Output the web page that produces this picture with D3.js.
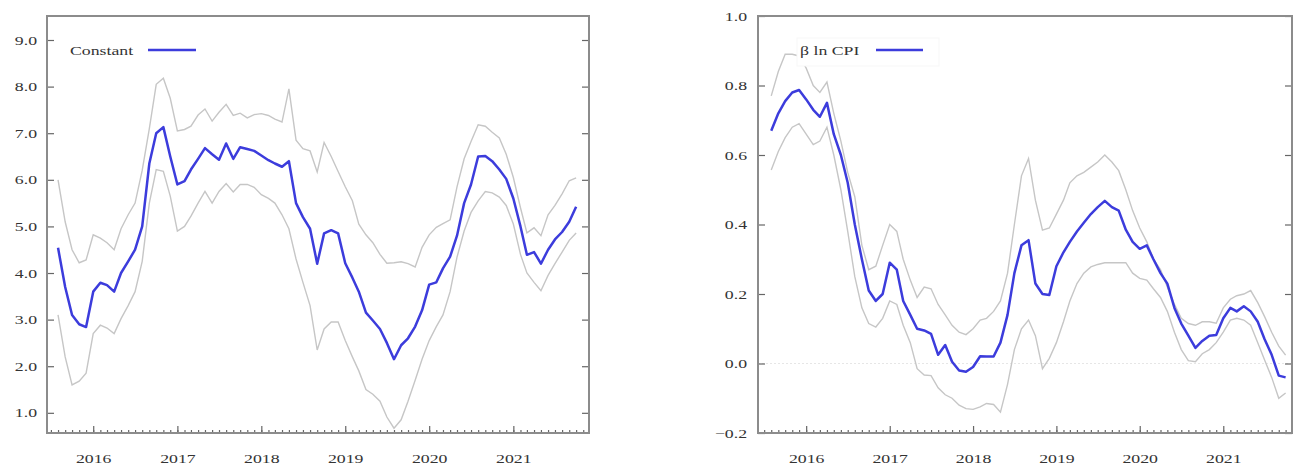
<!DOCTYPE html>
<html><head><meta charset="utf-8">
<script src="https://cdn.jsdelivr.net/npm/d3@7"></script>
<style>
html,body{margin:0;padding:0;background:#fff;}
svg{display:block;}
text{font-family:"Liberation Serif","Times New Roman",serif;fill:#333;}
</style></head>
<body>
<svg id="chart" width="1293" height="469"></svg>
<script>
// ---- data (monthly, Aug 2015 .. Oct 2021) ----
const startMonth = new Date(2015, 7, 1);
const endMonth = new Date(2021, 10, 1);
const months = d3.timeMonth.range(startMonth, endMonth);

const constMid = [4.54,3.70,3.10,2.90,2.84,3.60,3.79,3.74,3.60,4.00,4.25,4.50,5.00,6.35,7.00,7.13,6.50,5.90,5.97,6.22,6.45,6.68,6.55,6.43,6.78,6.45,6.70,6.66,6.62,6.52,6.42,6.35,6.28,6.40,5.50,5.20,4.95,4.20,4.85,4.92,4.85,4.21,3.90,3.60,3.15,2.98,2.80,2.50,2.15,2.45,2.60,2.85,3.20,3.75,3.80,4.10,4.35,4.80,5.50,5.90,6.50,6.51,6.40,6.22,6.02,5.60,5.00,4.39,4.45,4.20,4.50,4.72,4.88,5.10,5.42];
const constUpper = [6.00,5.10,4.50,4.22,4.28,4.82,4.75,4.65,4.50,4.95,5.25,5.50,6.20,7.10,8.05,8.18,7.75,7.05,7.08,7.15,7.39,7.52,7.26,7.45,7.62,7.38,7.43,7.33,7.40,7.42,7.38,7.30,7.24,7.95,6.85,6.67,6.62,6.17,6.80,6.50,6.18,5.85,5.55,5.05,4.82,4.65,4.40,4.21,4.22,4.24,4.20,4.13,4.55,4.82,4.98,5.06,5.14,5.85,6.45,6.82,7.18,7.15,7.02,6.90,6.55,6.05,5.40,4.86,4.97,4.80,5.25,5.45,5.70,5.98,6.04];
const constLower = [3.10,2.20,1.60,1.68,1.85,2.70,2.88,2.82,2.70,3.02,3.30,3.60,4.25,5.50,6.22,6.18,5.65,4.90,5.00,5.22,5.50,5.75,5.50,5.75,5.92,5.74,5.90,5.90,5.84,5.68,5.60,5.50,5.25,4.95,4.30,3.80,3.30,2.35,2.80,2.95,2.95,2.55,2.20,1.90,1.50,1.40,1.25,0.91,0.67,0.85,1.25,1.70,2.15,2.55,2.85,3.10,3.60,4.34,4.90,5.30,5.55,5.75,5.72,5.63,5.45,5.05,4.40,4.00,3.80,3.62,3.95,4.20,4.45,4.70,4.86];

const cpiMid = [0.67,0.72,0.755,0.78,0.787,0.76,0.73,0.71,0.75,0.66,0.60,0.52,0.40,0.30,0.21,0.18,0.20,0.29,0.27,0.18,0.14,0.10,0.095,0.085,0.025,0.053,0.005,-0.02,-0.024,-0.01,0.021,0.02,0.02,0.06,0.14,0.26,0.34,0.355,0.23,0.20,0.197,0.28,0.32,0.35,0.38,0.405,0.43,0.45,0.468,0.45,0.44,0.385,0.35,0.33,0.34,0.30,0.26,0.23,0.16,0.115,0.08,0.045,0.065,0.08,0.082,0.13,0.16,0.15,0.165,0.15,0.12,0.07,0.025,-0.035,-0.04];
const cpiUpper = [0.77,0.84,0.89,0.89,0.885,0.85,0.80,0.78,0.81,0.72,0.64,0.55,0.48,0.34,0.27,0.28,0.34,0.40,0.38,0.30,0.24,0.19,0.22,0.215,0.17,0.14,0.11,0.09,0.083,0.10,0.125,0.13,0.15,0.18,0.26,0.40,0.54,0.59,0.47,0.384,0.39,0.43,0.47,0.52,0.54,0.55,0.565,0.58,0.60,0.58,0.555,0.50,0.44,0.39,0.35,0.30,0.27,0.22,0.17,0.13,0.115,0.11,0.12,0.12,0.116,0.16,0.185,0.195,0.20,0.21,0.175,0.135,0.09,0.05,0.024];
const cpiLower = [0.557,0.61,0.65,0.68,0.69,0.66,0.63,0.64,0.68,0.60,0.50,0.38,0.25,0.16,0.115,0.105,0.13,0.18,0.17,0.11,0.06,-0.015,-0.033,-0.035,-0.07,-0.09,-0.10,-0.12,-0.13,-0.132,-0.125,-0.115,-0.118,-0.14,-0.06,0.04,0.10,0.125,0.08,-0.015,0.015,0.06,0.12,0.18,0.23,0.26,0.278,0.285,0.29,0.29,0.29,0.29,0.26,0.245,0.24,0.215,0.19,0.15,0.09,0.04,0.008,0.005,0.028,0.04,0.06,0.09,0.125,0.13,0.125,0.11,0.06,0.01,-0.04,-0.10,-0.085];

const constTicks = [1,2,3,4,5,6,7,8,9];
const cpiTicks = [-0.2,0,0.2,0.4,0.6,0.8,1.0];
const yearTicks = [2016,2017,2018,2019,2020,2021];
const legendLabels = ["Constant", "\u03b2 ln CPI"];

// ---- drawing ----
const svg = d3.select("#chart");
const STRETCH = 1.42;
const BLUE = "#3c3cdc";
const GREY = "#c6c6c6";

function stretchText(sel){
  sel.each(function(){
    const len = this.getComputedTextLength();
    d3.select(this).attr("textLength", len*STRETCH).attr("lengthAdjust","spacingAndGlyphs");
  });
}

function panel(opt){
  const g = svg.append("g");
  const x = d3.scaleTime().domain(opt.xDomain).range([opt.x0, opt.x1]);
  const y = d3.scaleLinear().domain(opt.yDomain).range([opt.y1, opt.y0]);

  if (opt.zero) {
    g.append("line")
      .attr("x1", opt.x0).attr("x2", opt.x1)
      .attr("y1", y(0)).attr("y2", y(0))
      .attr("stroke", "#e6e6e6").attr("stroke-width", 1.2)
      .attr("stroke-dasharray", "2,2");
  }

  const line = d3.line().x((d,i)=>x(months[i])).y(d=>y(d));
  g.append("path").datum(opt.upper).attr("d", line)
    .attr("fill","none").attr("stroke",GREY).attr("stroke-width",1.4);
  g.append("path").datum(opt.lower).attr("d", line)
    .attr("fill","none").attr("stroke",GREY).attr("stroke-width",1.4);
  g.append("path").datum(opt.mid).attr("d", line)
    .attr("fill","none").attr("stroke",BLUE).attr("stroke-width",2.5)
    .attr("stroke-linejoin","round");

  // legend
  const lg = g.append("g");
  if (opt.legendBox) {
    lg.append("rect").attr("x", opt.legendBox[0]).attr("y", opt.legendBox[1])
      .attr("width", opt.legendBox[2]).attr("height", opt.legendBox[3])
      .attr("fill","#fff").attr("stroke","#f7f7f7");
  }
  lg.append("text").attr("x", opt.legX).attr("y", opt.legY).attr("dy","0.35em")
    .attr("font-size", 12.5).text(opt.legend).call(stretchText);
  lg.append("line").attr("x1", opt.legL1).attr("x2", opt.legL2)
    .attr("y1", opt.legY - 1).attr("y2", opt.legY - 1)
    .attr("stroke", BLUE).attr("stroke-width", 2.5);

  // axes
  const style = a => {
    a.select(".domain").remove();
    a.selectAll("line").attr("stroke","#666").attr("stroke-width",1.2);
    a.selectAll("text").attr("font-size",12.5).attr("fill","#333")
      .attr("font-family","Liberation Serif, serif");
  };
  const fmt = opt.fmt;
  const yl = g.append("g").attr("transform",`translate(${opt.x0},0)`)
    .call(d3.axisLeft(y).tickValues(opt.yTicks).tickSize(-7).tickPadding(opt.yPad).tickFormat(fmt));
  style(yl); yl.selectAll("text").call(stretchText);
  const yr = g.append("g").attr("transform",`translate(${opt.x1},0)`)
    .call(d3.axisRight(y).tickValues(opt.yTicks).tickSize(-7).tickFormat(""));
  style(yr);
  const xm = g.append("g").attr("transform",`translate(0,${opt.y1})`)
    .call(d3.axisBottom(x).ticks(d3.timeMonth.every(1)).tickSize(-3).tickFormat(""));
  style(xm);
  const xb = g.append("g").attr("transform",`translate(0,${opt.y1})`)
    .call(d3.axisBottom(x).tickValues(yearTicks.map(v=>new Date(v,0,1))).tickSize(-7).tickPadding(21)
      .tickFormat(d3.timeFormat("%Y")));
  style(xb); xb.selectAll("text").call(stretchText);

  // frame
  g.append("rect").attr("x", opt.x0).attr("y", opt.y0)
    .attr("width", opt.x1-opt.x0).attr("height", opt.y1-opt.y0)
    .attr("fill","none").attr("stroke","#8c8c8c").attr("stroke-width",2);
}

panel({
  x0:47, x1:589, y0:16, y1:433,
  xDomain:[new Date(2015,5,14), new Date(2021,10,26)],
  yDomain:[0.567, 9.515],
  mid:constMid, upper:constUpper, lower:constLower,
  yTicks:constTicks, fmt:d3.format(".1f"), yPad:10,
  legend:legendLabels[0], legX:70, legY:51, legL1:148, legL2:196
});
panel({
  x0:758, x1:1292, y0:16, y1:433,
  xDomain:[new Date(2015,5,4), new Date(2021,9,29)],
  yDomain:[-0.2, 1.0],
  mid:cpiMid, upper:cpiUpper, lower:cpiLower, zero:true,
  yTicks:cpiTicks, fmt:d3.format(".1f"), yPad:11,
  legend:legendLabels[1], legX:800, legY:51, legL1:876, legL2:923,
  legendBox:[797, 38, 142, 28]
});
</script>
</body></html>
